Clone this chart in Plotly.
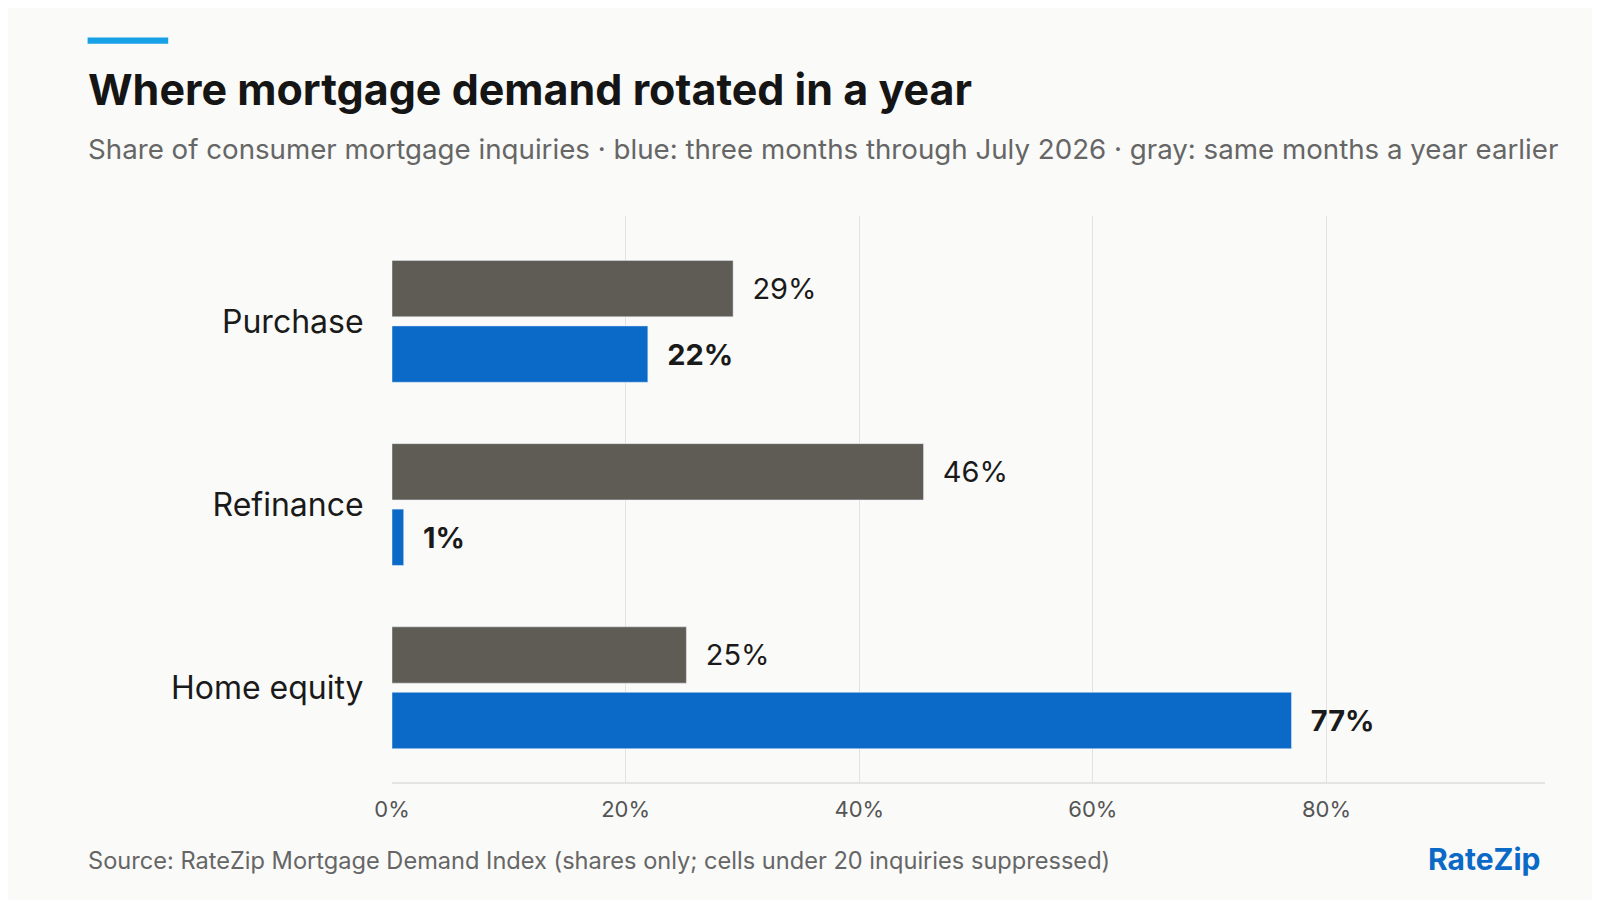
import plotly.graph_objects as go

categories = ["Purchase", "Refinance", "Home equity"]
year_earlier = [29.2, 45.5, 25.2]
latest = [21.9, 1.0, 77.0]
tick_vals = [0, 20, 40, 60, 80]
tick_text = ["0%", "20%", "40%", "60%", "80%"]

GRAY = "#5f5b55"
BLUE = "#0b69c7"
FONT = "Inter, Noto Sans, sans-serif"

L, R, T, B = 384, 63, 208, 125
PW, PH = 1600 - L - R, 900 - T - B


def px(x):
    return (x - L) / PW


def py(y):
    return 1 - (y - T) / PH


fig = go.Figure()
fig.add_trace(go.Bar(
    y=categories, x=year_earlier, orientation="h", marker_color=GRAY,
    text=[f"  {round(v)}%" for v in year_earlier], textposition="outside",
    textfont=dict(size=29, color="#1a1a1a", family=FONT), cliponaxis=False,
    showlegend=False, hoverinfo="skip",
))
fig.add_trace(go.Bar(
    y=categories, x=latest, orientation="h", marker_color=BLUE,
    text=[f"  <b>{round(v)}%</b>" for v in latest], textposition="outside",
    textfont=dict(size=29, color="#1a1a1a", family=FONT), cliponaxis=False,
    showlegend=False, hoverinfo="skip",
))

fig.update_layout(
    width=1600, height=900,
    barmode="group", bargap=0.285, bargroupgap=0.14,
    paper_bgcolor="#fafaf9", plot_bgcolor="#fafaf9",
    margin=dict(l=L, r=R, t=T, b=B),
    font=dict(family=FONT),
    xaxis=dict(range=[0, 98.7], tickvals=tick_vals, ticktext=tick_text,
               tickfont=dict(size=22, color="#555"), showgrid=True,
               gridcolor="#e3e3e3", zeroline=False, showline=False,
               ticks="outside", ticklen=7, tickcolor="rgba(0,0,0,0)"),
    yaxis=dict(range=[2.52, -0.575], tickfont=dict(size=32, color="#1a1a1a"),
               ticks="outside", ticklen=21, tickcolor="rgba(0,0,0,0)",
               showline=False),
    shapes=[
        dict(type="line", xref="x", yref="paper", x0=0, x1=98.7, y0=0, y1=0,
             line=dict(color="#dddddd", width=1.5)),
        dict(type="rect", xref="paper", yref="paper",
             x0=px(79.6), x1=px(160.2), y0=py(35.7), y1=py(29.6),
             fillcolor="#16a0e6", line_width=0),
    ],
    annotations=[
        dict(text="<b>Where mortgage demand rotated in a year</b>", xref="paper", yref="paper",
             x=px(77.6), y=py(80.6), xanchor="left", yanchor="middle", showarrow=False,
             font=dict(size=43, color="#151515", family=FONT)),
        dict(text="Share of consumer mortgage inquiries · blue: three months through July 2026 · gray: same months a year earlier",
             xref="paper", yref="paper", x=px(77.6), y=py(140.8), xanchor="left",
             yanchor="middle", showarrow=False, font=dict(size=27.7, color="#666", family=FONT)),
        dict(text="Source: RateZip Mortgage Demand Index (shares only; cells under 20 inquiries suppressed)",
             xref="paper", yref="paper", x=px(77.6), y=py(852), xanchor="left",
             yanchor="middle", showarrow=False, font=dict(size=23.6, color="#666", family=FONT)),
        dict(text="<b>RateZip</b>", xref="paper", yref="paper", x=px(1534.7), y=py(851),
             xanchor="right", yanchor="middle", showarrow=False,
             font=dict(size=30, color="#0b69c7", family=FONT)),
    ],
)

fig.write_html("out.html")
